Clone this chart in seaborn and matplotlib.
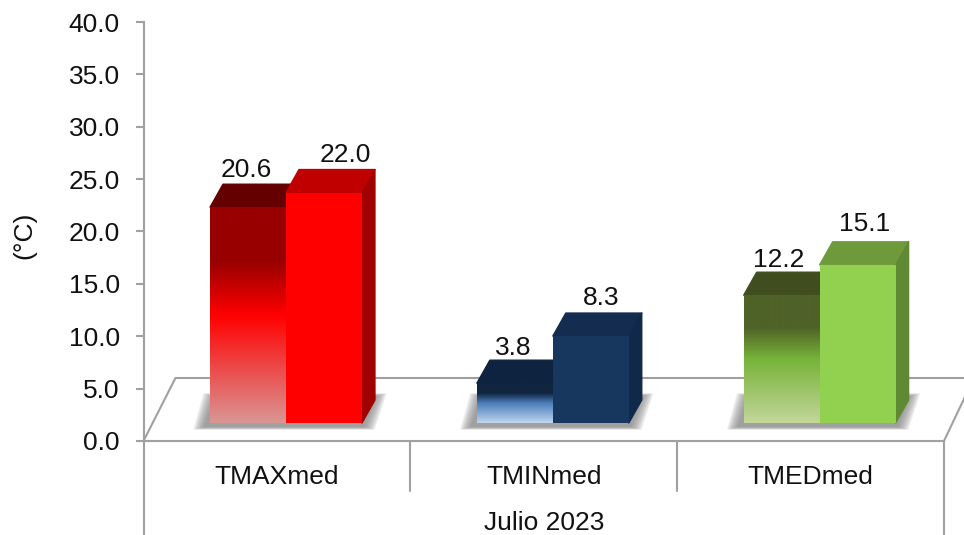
import numpy as np
import pandas as pd
import matplotlib
matplotlib.use('Agg')
import matplotlib.pyplot as plt
from matplotlib.colors import LinearSegmentedColormap
from matplotlib.patches import Polygon
import seaborn as sns

categorias = ['TMAXmed', 'TMINmed', 'TMEDmed']
serie_1 = [20.6, 3.8, 12.2]
serie_2 = [22.0, 8.3, 15.1]
y_ticks = [0, 5, 10, 15, 20, 25, 30, 35, 40]
periodo = 'Julio 2023'

# colores: frente degradado (arriba, medio, abajo) y caras laterales
degradados = [['#980000', '#980000', '#ff0000', '#d99694'],
              ['#10253f', '#10253f', '#4a7ebb', '#c0d5ee'],
              ['#4f6228', '#4f6228', '#77b338', '#c3d69b']]
tapa_1 = ['#640000', '#0e2340', '#3f4d1f']
frente_2 = ['#ff0000', '#17375e', '#92d050']
tapa_2 = ['#c00000', '#132c4f', '#6f9a3c']
lado_2 = ['#a00000', '#10294a', '#5f8a33']
# ajuste de las etiquetas (px)
ajuste_1 = [-2, -2, -3]
ajuste_2 = [21, 10, 7]
subir_1 = [0, -2, -2]
subir_2 = [1, 1, 4]

gris = '#a0a0a0'
PX_X = 1 / 267      # una categoria = 267 px
PX_Y = 40 / 419     # 40 grados = 419 px
BASE = 18 * PX_Y    # el piso del grafico 3D empieza por encima del eje
FONDO_X, FONDO_Y = 13 * PX_X, 23 * PX_Y

df = pd.DataFrame({
    'categoria': categorias * 2,
    'serie': ['s1'] * 3 + ['s2'] * 3,
    'valor': serie_1 + serie_2,
})

sns.set_theme(style='white')
plt.rcParams['font.family'] = ['Liberation Sans', 'DejaVu Sans']

fig = plt.figure(figsize=(9.64, 5.35), dpi=100)
ax = fig.add_axes([143.5 / 964, (535 - 441) / 535, (944 - 143.5) / 964, 419 / 535])
sns.barplot(data=df, x='categoria', y='valor', hue='serie', order=categorias,
            width=152 / 267, gap=0, legend=False, bottom=BASE, ax=ax, zorder=3,
            edgecolor='none', linewidth=0)

x0, x1 = -0.534, 2.466
bars_1, bars_2 = ax.containers[0], ax.containers[1]


def caras(bar, color_tapa, color_lado=None):
    x, w = bar.get_x(), bar.get_width()
    y = bar.get_y() + bar.get_height()
    tapa = [(x, y), (x + w, y), (x + w + FONDO_X, y + FONDO_Y), (x + FONDO_X, y + FONDO_Y)]
    ax.add_patch(Polygon(tapa, fc=color_tapa, ec=color_tapa, lw=1, joinstyle='round', zorder=2))
    if color_lado:
        lado = [(x + w, bar.get_y()), (x + w + FONDO_X, bar.get_y() + FONDO_Y),
                (x + w + FONDO_X, y + FONDO_Y), (x + w, y)]
        ax.add_patch(Polygon(lado, fc=color_lado, ec=color_lado, lw=1, joinstyle='round', zorder=2))


for i in range(len(categorias)):
    b1, b2 = bars_1[i], bars_2[i]

    # sombra sobre el piso
    izq, der = b1.get_x(), b2.get_x() + b2.get_width()
    for k in range(10):
        mx, my = k * 1.2 * PX_X, k * 0.3 * PX_Y
        abajo, arriba = BASE - (4 * PX_Y + my), BASE + 27 * PX_Y + my
        sombra = [(izq - 6 * PX_X - mx, abajo), (der + 2 * PX_X + mx, abajo),
                  (der + 14 * PX_X + mx, arriba), (izq + 4 * PX_X - mx, arriba)]
        ax.add_patch(Polygon(sombra, fc='#808080', ec='none', alpha=0.12, zorder=1.5))

    caras(b1, tapa_1[i])
    caras(b2, tapa_2[i], lado_2[i])

    # barra izquierda con degradado
    cmap = LinearSegmentedColormap.from_list('g', list(zip([0, 0.25, 0.5, 1], degradados[i])))
    b1.set_facecolor('none')
    ax.imshow(np.linspace(0, 1, 256)[:, None], cmap=cmap, aspect='auto', zorder=3,
              extent=(b1.get_x(), b1.get_x() + b1.get_width(), b1.get_y(), b1.get_y() + b1.get_height()))
    b2.set_facecolor(frente_2[i])
    b2.set_zorder(3.1)

    for bar, valor, ajuste, subir in [(b1, serie_1[i], ajuste_1[i], subir_1[i]),
                                      (b2, serie_2[i], ajuste_2[i], subir_2[i])]:
        ax.annotate(f'{valor:.1f}', (bar.get_x() + bar.get_width() / 2, bar.get_y() + bar.get_height() + FONDO_Y),
                    xytext=(ajuste * 0.72, 5 + subir * 0.72), textcoords='offset points', ha='center', va='baseline',
                    fontsize=19, color='#111111', annotation_clip=False, zorder=5)

ax.set_xlim(x0, x1)
ax.set_ylim(0, 40)

# piso del grafico
piso_x, piso_y = 32 * PX_X, 63 * PX_Y
ax.plot([x0, x0 + piso_x, x1 + 0.2], [0, piso_y, piso_y], color=gris, lw=1.5, clip_on=False, zorder=1)
ax.plot([x1, x1 + piso_x], [0, piso_y * 1.07], color=gris, lw=1.5, clip_on=False, zorder=1)

# ejes
sns.despine(ax=ax)
for lado in ['left', 'bottom']:
    ax.spines[lado].set_color(gris)
    ax.spines[lado].set_linewidth(1.5)
ax.set_yticks(y_ticks, [f'{v:.1f}' for v in y_ticks])
ax.tick_params(axis='y', left=True, length=6, width=1.5, color=gris, pad=11, labelsize=19, labelcolor='#111111')
ax.set_xticks([i + x0 + 0.5 for i in range(3)], categorias)
ax.tick_params(axis='x', bottom=False, pad=11.5, labelsize=19, labelcolor='#111111')
ax.set_xlabel(periodo, fontsize=19, color='#111111')
ax.xaxis.set_label_coords(0.5, -0.168)
ax.set_ylabel('(°C)', fontsize=19, color='#111111')
ax.yaxis.set_label_coords(-0.134, 0.49)

# separadores de categorias bajo el eje
tr = ax.get_xaxis_transform()
for xs, largo in [(x0, -0.3), (x0 + 1, -0.12), (x0 + 2, -0.12), (x1, -0.3)]:
    ax.plot([xs, xs], [0, largo], color=gris, lw=1.5, transform=tr, clip_on=False)

fig.savefig('out.png', dpi=100)
